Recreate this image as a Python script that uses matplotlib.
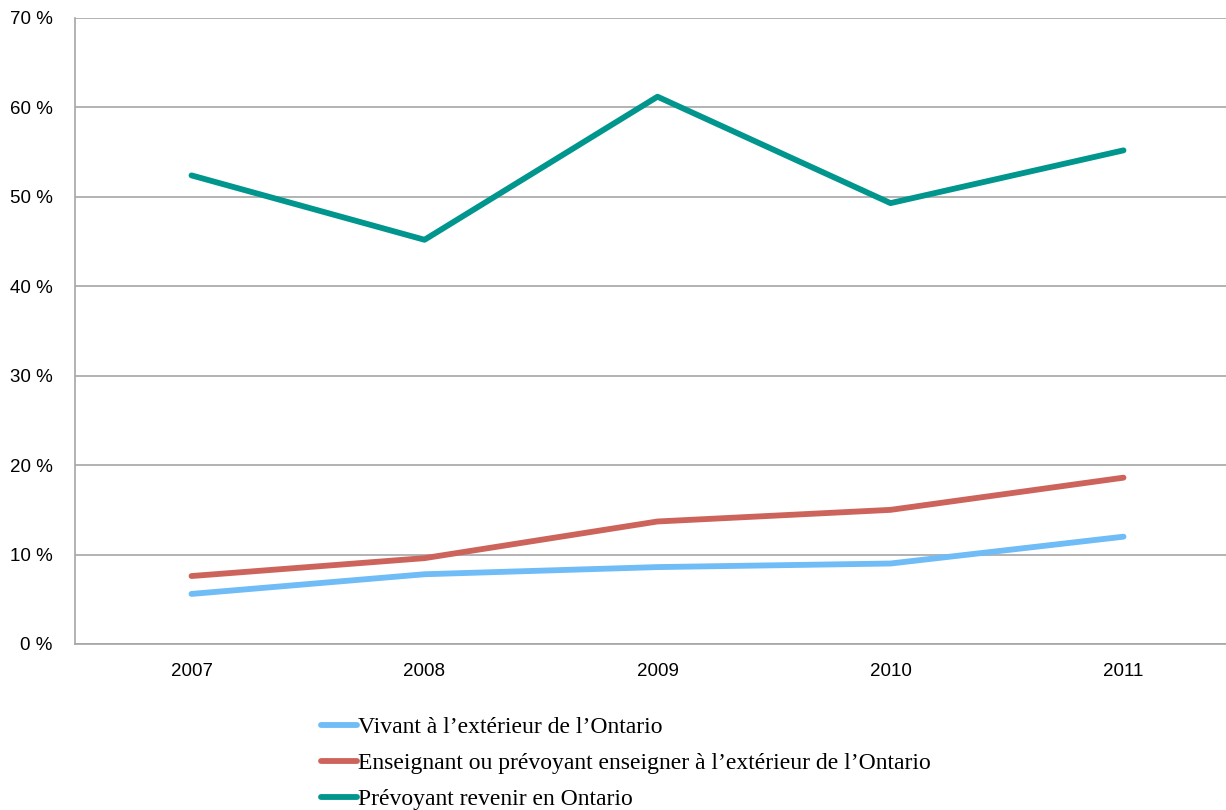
import matplotlib.pyplot as plt
import numpy as np

years = ['2007', '2008', '2009', '2010', '2011']
vivant_ext = [5.6, 7.8, 8.6, 9.0, 12.0]
enseignant_ext = [7.6, 9.6, 13.7, 15.0, 18.6]
revenir_ontario = [52.4, 45.2, 61.2, 49.3, 55.2]
labels = [
    "Vivant à l\u2019extérieur de l\u2019Ontario",
    "Enseignant ou prévoyant enseigner à l\u2019extérieur de l\u2019Ontario",
    "Prévoyant revenir en Ontario",
]
colors = ['#6fbcf7', '#cd645c', '#00968e']

if __name__ == '__main__':
    plt.rcParams['font.family'] = ['Liberation Sans', 'DejaVu Sans']
    fig = plt.figure(figsize=(12.26, 8.10), dpi=100)
    ax = fig.add_axes([75 / 1226, 166 / 810, 1165 / 1226, 626 / 810])

    x = np.arange(len(years))
    for vals, lab, col in zip([vivant_ext, enseignant_ext, revenir_ontario], labels, colors):
        ax.plot(x, vals, color=col, lw=4.2, solid_capstyle='round', label=lab)

    ax.set_xlim(-0.5, len(years) - 0.5)
    ax.set_ylim(0, 70)
    ax.set_yticks(np.arange(0, 71, 10))
    ax.set_yticklabels([f'{v} %' for v in range(0, 71, 10)])
    ax.set_xticks(x)
    ax.set_xticklabels(years)
    ax.tick_params(length=0, labelsize=13.5, pad=14)
    ax.tick_params(axis='y', pad=16)
    ax.grid(axis='y', color='#a6a6a6', lw=1.2)
    ax.set_axisbelow(True)
    for s in ['top', 'right']:
        ax.spines[s].set_visible(False)
    for s in ['left', 'bottom']:
        ax.spines[s].set_color('#a6a6a6')
        ax.spines[s].set_linewidth(1.2)

    leg = fig.legend(loc='upper left', bbox_to_anchor=(312 / 1226, 1 - 707 / 810),
                     frameon=False, handlelength=1.5, handletextpad=0.05,
                     labelspacing=0.62, borderaxespad=0,
                     prop={'family': ['Liberation Serif', 'DejaVu Serif'], 'size': 17})

    plt.savefig('out.png', dpi=100)
